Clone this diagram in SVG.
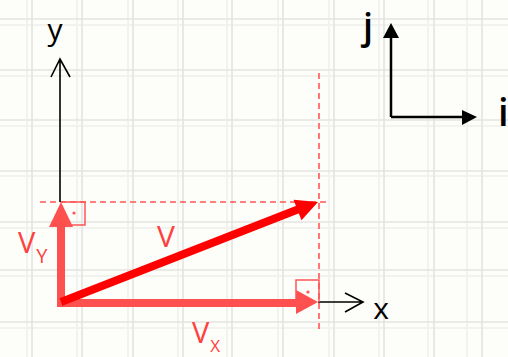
<svg xmlns="http://www.w3.org/2000/svg" width="508" height="357" viewBox="0 0 508 357">
<defs>
<style>
.grid{stroke:#e3e3df;stroke-width:1.6;fill:none}
.grid2{stroke:#f2f2ee;stroke-width:2;fill:none}
.axis{stroke:#000;stroke-width:1.6;fill:none}
.ax{font-family:"Open Sans","Liberation Sans",sans-serif;fill:#000}
.dash{stroke:#ff5555;stroke-width:1.6;stroke-dasharray:6 4;fill:none}
.comp{stroke:#ff5050;stroke-width:8;fill:none}
.vec{stroke:#ff0000;stroke-width:8;fill:none}
.lbl{font-family:"Open Sans","Liberation Sans",sans-serif;fill:#ff4040}
.box{stroke:#ff5555;stroke-width:1.5;fill:none}
</style>
</defs>
<rect width="508" height="357" fill="#fdfdf9"/>
<g id="grid">
<path class="grid2" d="M27 0V357M77 0V357M128 0V357M178 0V357M227 0V357M278 0V357M329 0V357M379 0V357M428 0V357M467 0V357M0 25H508M0 76H508M0 126H508M0 176H508M0 228H508M0 276H508M0 328H508"/>
<path class="grid" d="M32 0V357M82 0V357M133 0V357M183 0V357M232 0V357M283 0V357M334 0V357M384 0V357M434 0V357M482 0V357M0 19H508M0 70H508M0 120H508M0 171H508M0 222H508M0 270H508M0 322H508"/>
</g>
<g id="connectors">
<path class="dash" d="M319 73V332"/>
<path class="dash" d="M40 202H328"/>
<path class="axis" d="M60 202V60M51 77L60 59L70 77"/>
<path class="axis" d="M318 302H362M345 293L363 302L345 312"/>
<path d="M391 117V37M391 117H463" stroke="#000" stroke-width="2.5" fill="none"/>
<path d="M383 38L391 23L399 38Z" fill="#000"/>
<path d="M462 110L477 117L462 125Z" fill="#000"/>
<path class="comp" d="M61 306V224"/>
<path d="M49 227L61 202L73 227Z" fill="#ff5050"/>
<path class="comp" d="M57 303H298"/>
<path d="M296 290L318 302L296 314Z" fill="#ff5050"/>
<path class="vec" d="M61 302L299 209"/>
<path d="M293.5 199.8L318 202L301.5 220.2Z" fill="#ff0000"/>
</g>
<g id="right-angle-y">
<path class="box" d="M61 202H85V225H65"/>
<circle cx="74" cy="213" r="1.6" fill="#ff5555"/>
</g>
<g id="right-angle-x">
<path class="box" d="M296 299V280H319V302"/>
<circle cx="308" cy="292" r="1.6" fill="#ff5555"/>
</g>
<g id="label-y"><text class="ax" x="55" y="40" font-size="30" text-anchor="middle">y</text></g>
<g id="label-x"><text class="ax" x="381" y="319" font-size="30" text-anchor="middle">x</text></g>
<g id="label-j"><text class="ax" x="368" y="39" font-size="36" font-weight="600" text-anchor="middle">j</text></g>
<g id="label-i"><text class="ax" x="498" y="126" font-size="38" font-weight="600">i</text></g>
<g id="label-V"><text class="lbl" x="166" y="247" font-size="30" text-anchor="middle">V</text></g>
<g id="label-Vy"><text class="lbl" x="18" y="253" font-size="29">V<tspan font-size="20" dx="1" dy="10">Y</tspan></text></g>
<g id="label-Vx"><text class="lbl" x="192" y="343" font-size="29">V<tspan font-size="17" dx="1" dy="9">X</tspan></text></g>
</svg>
